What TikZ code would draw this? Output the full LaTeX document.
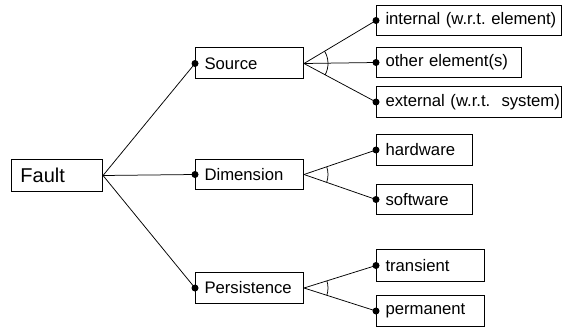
\documentclass[tikz,border=0pt]{standalone}
\usepackage{fontspec}
\setmainfont{Liberation Sans}
\usetikzlibrary{calc}
% arc marking an "and" group of branches leaving one box
\newcommand\joinarc[3]{%
  \draw[link] let \p1=($(#2.west)-(#1.east)$), \p2=($(#3.west)-(#1.east)$),
    \n1={atan2(\y1,\x1)}, \n2={atan2(\y2,\x2)} in
    ($(#1.east)+(\n1:24pt)$) arc[start angle=\n1, end angle=\n2, radius=24pt];}
\begin{document}
\frenchspacing
\begin{tikzpicture}[x=1pt,y=-1pt,
  cbox/.style={draw, line width=1pt, anchor=north west, inner xsep=0pt, inner ysep=0pt,
    text width=#1, align=left, font=\fontsize{16.7}{20}\selectfont,
    execute at begin node={\hspace*{9pt}}},
  link/.style={line width=0.75pt},
  joint/.style={fill=black}]
\useasboundingbox (0,0) rectangle (565,329);

% root
\node[cbox=91pt, minimum height=32pt, font=\fontsize{20}{24}\selectfont] (fault) at (11,159) {Fault};

% classification axes
\node[cbox=108pt, minimum height=31pt] (source) at (195,47.5) {Source};
\node[cbox=108pt, minimum height=30pt] (dimension) at (195,159) {Dimension};
\node[cbox=108pt, minimum height=31pt] (persistence) at (195,272) {Persistence};

% values of each axis
\node[cbox=185pt, minimum height=30pt] (intl) at (376,5) {internal (w.r.t.\ element)};
\node[cbox=145pt, minimum height=30pt] (other) at (376,47) {other element(s)};
\node[cbox=185pt, minimum height=31pt] (extl) at (376,86) {external (w.r.t.\ \ system)};
\node[cbox=96pt, minimum height=31pt] (hw) at (376,134) {hardware};
\node[cbox=96pt, minimum height=30pt] (sw) at (376,184) {software};
\node[cbox=108pt, minimum height=32pt] (trans) at (376,249) {transient};
\node[cbox=108pt, minimum height=31pt] (perm) at (376,295) {permanent};

% branches
\foreach \a/\b in {fault/source, fault/dimension, fault/persistence,
                   source/intl, source/other, source/extl,
                   dimension/hw, dimension/sw,
                   persistence/trans, persistence/perm}{
  \draw[link] (\a.east) -- (\b.west);
  \fill[joint] (\b.west) circle (3.5pt);
}

\joinarc{source}{intl}{extl}
\joinarc{dimension}{hw}{sw}
\joinarc{persistence}{trans}{perm}
\end{tikzpicture}
\end{document}
